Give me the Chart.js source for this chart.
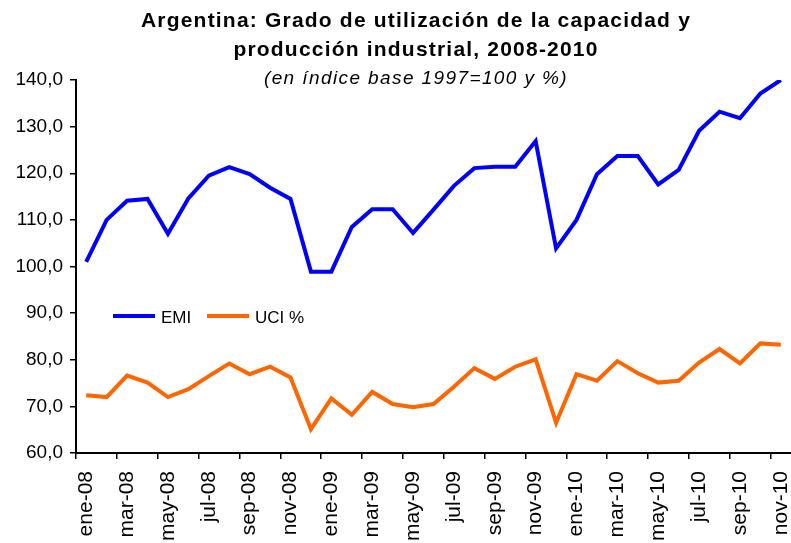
<!DOCTYPE html>
<html>
<head>
<meta charset="utf-8">
<script src="https://cdn.jsdelivr.net/npm/chart.js@4"></script>
<style>
  html, body { margin: 0; padding: 0; background: #fff; }
  #wrap { width: 791px; height: 543px; }
</style>
</head>
<body>
<div id="wrap"><canvas id="grafico"></canvas></div>
<script>
// meses ene-08 a nov-10
var meses = ['ene-08','feb-08','mar-08','abr-08','may-08','jun-08','jul-08','ago-08','sep-08','oct-08','nov-08','dic-08',
             'ene-09','feb-09','mar-09','abr-09','may-09','jun-09','jul-09','ago-09','sep-09','oct-09','nov-09','dic-09',
             'ene-10','feb-10','mar-10','abr-10','may-10','jun-10','jul-10','ago-10','sep-10','oct-10','nov-10'];

var emi = [101.0, 110.0, 114.1, 114.5, 107.0, 114.6, 119.5, 121.3, 119.8, 116.9, 114.5, 98.9,
           98.9, 108.5, 112.3, 112.3, 107.2, 112.2, 117.3, 121.1, 121.4, 121.4, 126.9, 103.9,
           110.0, 119.8, 123.7, 123.7, 117.6, 120.7, 129.1, 133.2, 131.8, 137.1, 140.0];

var uci = [72.4, 72.0, 76.6, 75.1, 72.0, 73.7, 76.5, 79.2, 76.9, 78.5, 76.2, 65.1,
           71.7, 68.2, 73.1, 70.5, 69.8, 70.5, 74.2, 78.2, 75.9, 78.5, 80.1, 66.5,
           76.9, 75.5, 79.7, 77.1, 75.1, 75.5, 79.4, 82.3, 79.2, 83.5, 83.2];

var titulo = ['Argentina: Grado de utilización de la capacidad y', 'producción industrial, 2008-2010'];
var subtitulo = '(en índice base 1997=100 y %)';

var FUENTE = '"Liberation Sans", Arial, sans-serif';

// titulos y leyenda dibujados a mano (posicion tipo Excel)
var textos = {
    id: 'textos',
    afterDraw: function (chart) {
        var ctx = chart.ctx;
        ctx.save();
        ctx.fillStyle = '#000';
        ctx.textAlign = 'center';
        ctx.textBaseline = 'alphabetic';
        ctx.font = 'bold 21px ' + FUENTE;
        ctx.letterSpacing = '1.2px';
        ctx.fillText(titulo[0], 416, 27);
        ctx.fillText(titulo[1], 416, 56);
        ctx.font = 'italic 19px ' + FUENTE;
        ctx.letterSpacing = '1.4px';
        ctx.fillText(subtitulo, 416, 84);

        // leyenda
        ctx.letterSpacing = '0px';
        ctx.textAlign = 'left';
        ctx.font = '17px ' + FUENTE;
        var x = 113, y = 316;
        chart.data.datasets.forEach(function (ds) {
            ctx.strokeStyle = ds.borderColor;
            ctx.lineWidth = 4;
            ctx.beginPath();
            ctx.moveTo(x, y);
            ctx.lineTo(x + 42, y);
            ctx.stroke();
            ctx.fillText(ds.label, x + 48, y + 7);
            x += 94;
        });
        ctx.restore();
    }
};

var ctx = document.getElementById('grafico').getContext('2d');
var myChart = new Chart(ctx, {
    type: 'line',
    data: {
        labels: meses,
        datasets: [{
            label: 'EMI',
            data: emi,
            borderColor: '#0000FF',
            borderWidth: 4,
            pointRadius: 0,
            tension: 0
        }, {
            label: 'UCI %',
            data: uci,
            borderColor: '#FF6600',
            borderWidth: 4,
            pointRadius: 0,
            tension: 0
        }]
    },
    options: {
        responsive: true,
        maintainAspectRatio: false,
        animation: false,
        layout: { padding: { top: 80, left: 0, right: 0, bottom: 0 } },
        plugins: {
            legend: { display: false },
            title: { display: false },
            tooltip: { enabled: false }
        },
        scales: {
            x: {
                offset: true,
                grid: {
                    offset: true,
                    drawOnChartArea: false,
                    tickLength: 6,
                    lineWidth: 1.5,
                    color: function (c) { return c.index % 2 === 0 ? '#000' : 'rgba(0,0,0,0)'; }
                },
                border: { display: true, color: '#000', width: 2 },
                ticks: {
                    autoSkip: false,
                    minRotation: 90,
                    maxRotation: 90,
                    padding: 12,
                    color: '#000',
                    font: { family: FUENTE, size: 21 },
                    callback: function (v, i) { return i % 2 === 0 ? meses[i] : ''; }
                },
                afterFit: function (s) {
                    s.height = 90;
                    s.paddingLeft = 0;
                    s.paddingRight = 0;
                }
            },
            y: {
                min: 60,
                max: 140,
                grid: {
                    drawOnChartArea: false,
                    tickLength: 6,
                    lineWidth: 1.5,
                    color: '#000'
                },
                border: { display: true, color: '#000', width: 2 },
                ticks: {
                    stepSize: 10,
                    padding: 7,
                    color: '#000',
                    font: { family: FUENTE, size: 19 },
                    callback: function (v) { return v.toFixed(1).replace('.', ','); }
                },
                afterFit: function (s) { s.width = 76; }
            }
        }
    },
    plugins: [textos]
});
</script>
</body>
</html>
